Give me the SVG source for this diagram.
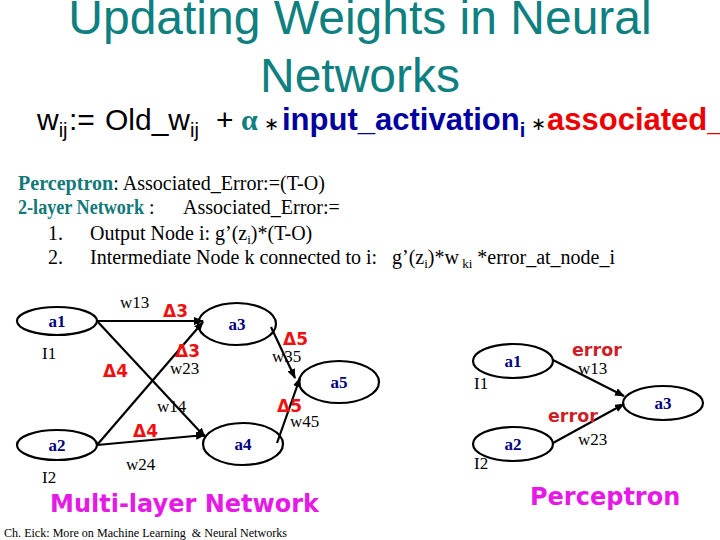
<svg xmlns="http://www.w3.org/2000/svg" width="720" height="540" viewBox="0 0 720 540">
<defs>
<style>
.title{font-family:"Liberation Sans",Arial,sans-serif;font-size:48px;fill:#0f8080;text-anchor:middle}
.fm{font-family:"Liberation Sans",Arial,sans-serif;font-size:30px;fill:#000}
.sub{font-size:20px}
.al{font-family:"Liberation Serif",serif;font-weight:bold;fill:#0f8080}
.ast{font-family:"DejaVu Sans",sans-serif;font-size:18px}
.bl{fill:#0000a0;font-weight:bold;font-size:31px}
.rd{fill:#ee0000;font-weight:bold;font-size:31px}
.tx{font-family:"Liberation Serif","Times New Roman",serif;font-size:20px;fill:#000}
.tb{font-weight:bold;fill:#137878}
.ts{font-size:13px}
.node ellipse{fill:none;stroke:#000;stroke-width:2.2}
.nl{font-family:"Liberation Serif",serif;font-weight:bold;font-size:17px;fill:#000080;text-anchor:middle}
.w{font-family:"Liberation Serif",serif;font-size:17px;fill:#000}
.d{font-family:"DejaVu Sans",sans-serif;font-weight:bold;font-size:17px;fill:#ee1111}
.err{font-family:"DejaVu Sans",sans-serif;font-weight:bold;font-size:17.5px;fill:#cc1f28}
.big{font-family:"DejaVu Sans",sans-serif;font-weight:bold;font-size:24px;fill:#e619e6}
.foot{font-family:"Liberation Serif",serif;font-size:12px;fill:#000}
.edges path{fill:none;stroke:#000;stroke-width:2.2}
</style>
<marker id="ah" markerUnits="userSpaceOnUse" markerWidth="10" markerHeight="8" refX="9" refY="4" orient="auto">
<path d="M0,0 L10,4 L0,8 z" fill="#000"/>
</marker>
</defs>
<rect width="720" height="540" fill="#fff"/>

<g id="title">
<text class="title" x="360" y="34">Updating Weights in Neural</text>
<text class="title" x="360" y="92">Networks</text>
</g>

<g id="formula">
<text class="fm" y="130"><tspan x="37">w</tspan><tspan class="sub" dy="7">ij</tspan><tspan x="69" dy="-7">:=</tspan><tspan x="105">Old_w</tspan><tspan class="sub" dy="7">ij</tspan><tspan x="216" dy="-7">+</tspan><tspan x="241" class="al">α</tspan><tspan x="264" class="ast">∗</tspan><tspan x="282" class="bl">input_activation</tspan><tspan class="sub" fill="#0000a0" font-weight="bold" dy="7">i</tspan><tspan x="531" dy="-7" class="ast">∗</tspan><tspan x="547" class="rd">associated_</tspan></text>
</g>

<g id="rules">
<text class="tx" x="18" y="190" textLength="307" lengthAdjust="spacingAndGlyphs"><tspan class="tb">Perceptron</tspan>: Associated_Error:=(T-O)</text>
<text class="tx tb" x="18" y="214" textLength="126" lengthAdjust="spacingAndGlyphs">2-layer Network</text>
<text class="tx" x="149" y="214">:</text>
<text class="tx" x="183" y="214">Associated_Error:=</text>
<text class="tx" x="48" y="240">1.</text>
<text class="tx" x="90" y="240">Output Node i: g’(z<tspan class="ts" dy="4">i</tspan><tspan dy="-4">)*(T-O)</tspan></text>
<text class="tx" x="48" y="264">2.</text>
<text class="tx" x="90" y="264">Intermediate Node k connected to i:</text>
<text class="tx" x="392" y="264">g’(z<tspan class="ts" dy="4">i</tspan><tspan dy="-4">)*w</tspan><tspan class="ts" dy="4"> ki</tspan><tspan dy="-4"> *error_at_node_i</tspan></text>
</g>

<g id="L-a1" class="node"><ellipse cx="57" cy="321" rx="40" ry="14"/><text class="nl" x="57" y="327">a1</text><text class="w" x="42" y="359">I1</text></g>
<g id="L-a2" class="node"><ellipse cx="57" cy="445" rx="40" ry="15"/><text class="nl" x="57" y="451">a2</text><text class="w" x="42" y="483">I2</text></g>
<g id="L-a3" class="node"><ellipse cx="237" cy="324" rx="39" ry="21"/><text class="nl" x="237" y="330">a3</text></g>
<g id="L-a4" class="node"><ellipse cx="243" cy="444" rx="40" ry="21"/><text class="nl" x="243" y="450">a4</text></g>
<g id="L-a5" class="node"><ellipse cx="339" cy="382" rx="40" ry="21"/><text class="nl" x="339" y="388">a5</text></g>

<g id="R-a1" class="node"><ellipse cx="513" cy="361" rx="40" ry="17"/><text class="nl" x="513" y="367">a1</text><text class="w" x="474" y="389">I1</text></g>
<g id="R-a2" class="node"><ellipse cx="513" cy="444" rx="40" ry="17"/><text class="nl" x="513" y="450">a2</text><text class="w" x="474" y="469">I2</text></g>
<g id="R-a3" class="node"><ellipse cx="663" cy="403" rx="40" ry="17"/><text class="nl" x="663" y="409">a3</text></g>

<g class="edges" id="connectors">
<path d="M97,321 L203,321" marker-end="url(#ah)"/>
<path d="M97,321 L205,437" marker-end="url(#ah)"/>
<path d="M97,445 L203,322" marker-end="url(#ah)"/>
<path d="M97,445 L205,435" marker-end="url(#ah)"/>
<path d="M271,327 L295,378" marker-end="url(#ah)"/>
<path d="M277,443 L300,378" marker-end="url(#ah)"/>
<path d="M553,360 L624,396" marker-end="url(#ah)"/>
<path d="M553,443 L624,404" marker-end="url(#ah)"/>
</g>

<g id="edge-labels">
<text class="w" x="120" y="308">w13</text>
<text class="d" x="163" y="317">Δ3</text>
<text class="d" x="175" y="357">Δ3</text>
<text class="w" x="170" y="374">w23</text>
<text class="d" x="103" y="377">Δ4</text>
<text class="w" x="157" y="412">w14</text>
<text class="d" x="133" y="437">Δ4</text>
<text class="w" x="126" y="470">w24</text>
<text class="d" x="283" y="345">Δ5</text>
<text class="w" x="272" y="362">w35</text>
<text class="d" x="277" y="412">Δ5</text>
<text class="w" x="290" y="427">w45</text>
<text class="err" x="572" y="356">error</text>
<text class="w" x="578" y="374">w13</text>
<text class="err" x="548" y="422">error</text>
<text class="w" x="578" y="445">w23</text>
</g>

<g id="captions">
<text class="big" x="50" y="512">Multi-layer Network</text>
<text class="big" x="530" y="505">Perceptron</text>
<text class="foot" x="4" y="537" textLength="283" lengthAdjust="spacingAndGlyphs">Ch. Eick: More on Machine Learning&#160; &amp; Neural Networks</text>
</g>
</svg>
